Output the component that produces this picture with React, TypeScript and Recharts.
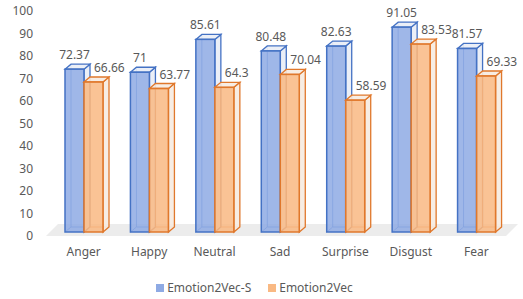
import React from "react";
import { BarChart, Bar, XAxis, YAxis, Legend, LabelList } from "recharts";

const emotions = ["Anger", "Happy", "Neutral", "Sad", "Surprise", "Disgust", "Fear"];
const emotion2vecS = [72.37, 71, 85.61, 80.48, 82.63, 91.05, 81.57];
const emotion2vec = [66.66, 63.77, 64.3, 70.04, 58.59, 83.53, 69.33];
const yTicks = [0, 10, 20, 30, 40, 50, 60, 70, 80, 90, 100];

const data = emotions.map((name, i) => ({
  name,
  s: emotion2vecS[i],
  v: emotion2vec[i],
}));

const FONT = "'Noto Sans', sans-serif";
const TEXT = "#595959";
const BLUE = { fill: "#8eaae4", stroke: "#4472c4", light: "#e9edf6" };
const ORANGE = { fill: "#f9b983", stroke: "#e0782c", light: "#f6ebe1" };
const DX = 6;
const DY = -5;

function Box3D(props: any) {
  const { x, y, width: w, height: h, tone } = props;
  if (w == null || h == null) return null;
  const b = y + h;
  return (
    <g>
      {/* hidden back edges */}
      <path
        d={`M${x + DX},${y + DY} L${x + DX},${b + DY} L${x + w + DX},${b + DY} M${x},${b} L${x + DX},${b + DY}`}
        stroke={tone.stroke}
        strokeWidth={1}
        fill="none"
        strokeOpacity={0.8}
      />
      <polygon
        points={`${x + w},${y} ${x + w + DX},${y + DY} ${x + w + DX},${b + DY} ${x + w},${b}`}
        fill={tone.light}
        fillOpacity={0.9}
        stroke={tone.stroke}
        strokeWidth={1.3}
      />
      <polygon
        points={`${x},${y} ${x + DX},${y + DY} ${x + w + DX},${y + DY} ${x + w},${y}`}
        fill={tone.light}
        fillOpacity={0.9}
        stroke={tone.stroke}
        strokeWidth={1.3}
      />
      <rect
        x={x}
        y={y}
        width={w}
        height={h}
        fill={tone.fill}
        fillOpacity={0.85}
        stroke={tone.stroke}
        strokeWidth={1.5}
      />
    </g>
  );
}

function ValueLabel(props: any) {
  const { x, y, width, value, anchor } = props;
  const tx = anchor === "start" ? x + 10 : x + width / 2;
  return (
    <text
      x={tx}
      y={y - 14.5}
      dominantBaseline="central"
      textAnchor={anchor}
      fontSize={12}
      fontFamily={FONT}
      fill={TEXT}
    >
      {value}
    </text>
  );
}

function YTick(props: any) {
  const { x, y, payload } = props;
  return (
    <text x={x} y={y + 4} dy="0.355em" textAnchor="end" fontSize={12} fontFamily={FONT} fill={TEXT}>
      {payload.value}
    </text>
  );
}

function XTick(props: any) {
  const { x, y, payload } = props;
  return (
    <text x={x} y={y + 12} dy="0.355em" textAnchor="middle" fontSize={12} fontFamily={FONT} fill={TEXT}>
      {payload.value}
    </text>
  );
}

function LegendBox() {
  const items = [
    { l: "Emotion2Vec-S", c: BLUE },
    { l: "Emotion2Vec", c: ORANGE },
  ];
  return (
    <div
      style={{
        height: 27,
        display: "flex",
        justifyContent: "center",
        alignItems: "center",
        gap: 17,
        paddingTop: 4,
        boxSizing: "border-box",
      }}
    >
      {items.map((it) => (
        <div key={it.l} style={{ display: "flex", alignItems: "center", gap: 3 }}>
          <span style={{ width: 8, height: 8, background: it.c.fill, display: "inline-block" }} />
          <span style={{ fontSize: 12, fontFamily: FONT, color: TEXT }}>{it.l}</span>
        </div>
      ))}
    </div>
  );
}

export default function App() {
  return (
    <div style={{ position: "absolute", left: 0, top: 0, width: 523, height: 299, background: "#fff" }}>
      <svg width={523} height={299} style={{ position: "absolute", left: 0, top: 0 }}>
        <polygon points="46,236 58,224 518,224 506,236" fill="#ececec" />
      </svg>
      <div style={{ position: "absolute", left: 0, top: 0 }}>
        <BarChart
          width={523}
          height={299}
          data={data}
          margin={{ top: 7, right: 14, left: 0, bottom: 0 }}
          barSize={19}
          barGap={0}
        >
          <XAxis dataKey="name" axisLine={false} tickLine={false} height={40} interval={0} tick={<XTick />} />
          <YAxis
            domain={[0, 100]}
            ticks={yTicks}
            interval={0}
            width={51}
            axisLine={false}
            tickLine={false}
            tickSize={0}
            tickMargin={18}
            tick={<YTick />}
          />
          <Legend verticalAlign="bottom" content={<LegendBox />} />
          <Bar dataKey="s" name="Emotion2Vec-S" isAnimationActive={false} shape={(p: any) => <Box3D {...p} tone={BLUE} />}>
            <LabelList dataKey="s" content={(p: any) => <ValueLabel {...p} anchor="middle" />} />
          </Bar>
          <Bar dataKey="v" name="Emotion2Vec" isAnimationActive={false} shape={(p: any) => <Box3D {...p} tone={ORANGE} />}>
            <LabelList dataKey="v" content={(p: any) => <ValueLabel {...p} anchor="start" />} />
          </Bar>
        </BarChart>
      </div>
    </div>
  );
}
